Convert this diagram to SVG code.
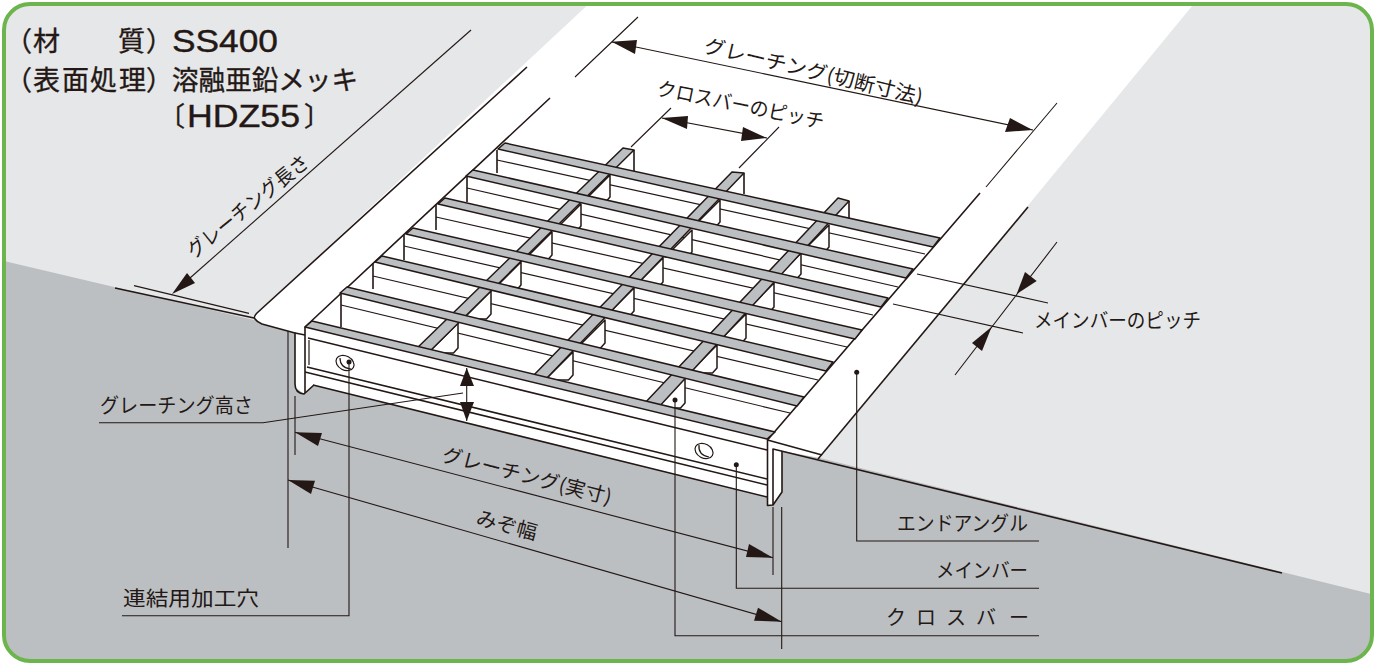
<svg xmlns="http://www.w3.org/2000/svg" width="1375" height="664" viewBox="0 0 1375 664">
<style>
.ink{fill:none;stroke:#231815;stroke-width:1.6;stroke-linecap:butt;stroke-linejoin:round}
.thin{fill:none;stroke:#231815;stroke-width:1.2}
.hair{fill:none;stroke:#231815;stroke-width:1.1}
.bar{fill:#bcbfc2;stroke:#231815;stroke-width:1.5;stroke-linejoin:round}
.web{fill:#fff;stroke:#231815;stroke-width:1.5;stroke-linejoin:round}
.ah{fill:#231815;stroke:none}
.dot{fill:#231815}
.t{font-family:"Noto Sans CJK JP","Noto Sans",sans-serif;fill:#231815;font-size:20px}
.h{font-size:27px;stroke:#231815;stroke-width:.35px}
.l{font-family:"Liberation Sans",Arial,sans-serif;fill:#231815;font-size:32px;stroke:#231815;stroke-width:.4px}
</style>
<defs><clipPath id="frame"><rect x="4" y="4" width="1368" height="657" rx="26"/></clipPath></defs>

<g id="background" clip-path="url(#frame)">
<rect width="1375" height="664" fill="#e6e7e8"/>
<polygon points="0,260 254,320 300,330 820,458 1375,595 1375,664 0,664" fill="#bcbfc2"/>
<polygon points="593,0 1197,0 820,458 782,451 782,492 773,505 768,506 768,497 313,385 304,394 295,387 295,333 260,323 254,316" fill="#fff"/>
</g>

<g id="end-angles">
<path class="ink" d="M527,67L257,313Q253,317 255,319Q257,322 262,324L295,333V384Q295,393 304,394L314,385"/>
<path class="ink" d="M550,98L305,327V393"/>
<path class="thin" d="M309,340V365"/>
<path class="ink" d="M295,333L305,335"/>
<path class="ink" d="M115,288L254,318"/>
<path class="thin" d="M134,285.700L249,313.300"/>
<path class="ink" d="M980,193L767.500,440V505.500L773,505L782,492V451"/>
<path class="ink" d="M1028,207L818,459"/>
<path class="ink" d="M767.500,440L822,455"/>
<path class="ink" d="M773,505V449L1282,573"/>
</g>

<g id="front-flange">
<path class="ink" d="M308,338L767,450M307,367L767,479M305,372L767,485M313,385L767,497"/>
<ellipse cx="345" cy="363" rx="9.500" ry="7" transform="rotate(28 345 363)" class="thin"/>
<path class="thin" d="M340,358Q340,368 351,369"/>
<ellipse cx="704" cy="451" rx="9.500" ry="7" transform="rotate(28 704 451)" class="thin"/>
<path class="thin" d="M699,445Q698,455 709,457"/>
</g>

<g id="main-bar-sides">
<path class="thin" d="M341,305L790,413M373,276L818,380M404,246L847,347M436,217L873,315M467,188L898,287M497,160L925,254"/>
<path class="ink" d="M341,294V327M373,263V289M404,235V260M436,205V230M467,177V202M497,150V173"/>
</g>

<g id="cross-bars">
<path class="web" d="M458,323V348l-4.500,5H428ZM491,291V314l-4.500,5H463ZM521,262V285l-4.500,5H493ZM552,232V255l-4.500,5H524ZM581,204V226l-4.500,5H554ZM610,175V197l-4.500,5H583Z"/>
<path class="web" d="M573,352V375l-4.500,5H545ZM605,320V343l-4.500,5H577ZM634,288V311l-4.500,5H606ZM663,258V282l-4.500,5H634ZM692,230V252l-4.500,5H665ZM720,200V222l-4.500,5H693Z"/>
<path class="web" d="M685,378V403l-4.500,5H655ZM717,345V368l-4.500,5H689ZM746,314V338l-4.500,5H717ZM774,283V307l-4.500,5H745ZM801,253V274l-4.500,5H775ZM829,225V247l-4.500,5H802Z"/>
<path class="ink" d="M634,150V172M744,173V194M849,201V219"/>
<polygon class="bar" points="414,351 623,148 634,150 428,353"/>
<polygon class="bar" points="531,378 732,172 744,173 544,381"/>
<polygon class="bar" points="643,405 838,198 849,201 657,409"/>
</g>

<g id="main-bars">
<polygon class="bar" points="505,143 940,238 933,247 498,149"/>
<polygon class="bar" points="473,170 913,269 906,278 466,176"/>
<polygon class="bar" points="445,198 888,298 881,307 438,204"/>
<polygon class="bar" points="413,228 862,330 855,339 406,234"/>
<polygon class="bar" points="382,256 833,362 826,371 375,262"/>
<polygon class="bar" points="347,287 804,397 797,406 340,293"/>
<polygon class="bar" points="312,321 775,432 767,439 305,327"/>
</g>

<g id="connectors">
<path class="hair" d="M471,30L190,278"/>
<polygon class="ah" points="172,294 187,273 195,283"/>
<path class="hair" d="M638,17L575,77M1057,103L986,187M612,42L1033,130"/>
<polygon class="ah" points="611.700,41.700 637,40 635,54"/>
<polygon class="ah" points="1032.700,130 1010,118 1005,132"/>
<path class="hair" d="M671,108L631,147M779,127L739,168M662,118L767,138"/>
<polygon class="ah" points="661.700,118 688,116 687,129"/>
<polygon class="ah" points="766.700,138 743,127 741,141"/>
<path class="hair" d="M1057,242L955,375M917,274L1048,303M893,304L1023,333"/>
<polygon class="ah" points="1016.700,294 1025,272 1036.700,281"/>
<polygon class="ah" points="991.700,326.700 972,343 982,351"/>
<path class="hair" d="M466.700,368V421"/>
<polygon class="ah" points="466.700,368 460,386 474,386"/>
<polygon class="ah" points="466.700,421 460,402 474,402"/>
<path class="hair" d="M99,422.700H263L463,393"/>
<path class="hair" d="M295,396V455M773,507V575M288,331V548M781.700,507V649"/>
<path class="hair" d="M295,432.300L773,557.700M288,480L781.700,621.700"/>
<polygon class="ah" points="295,432.300 322,433 318,446"/>
<polygon class="ah" points="773,557.700 749,544 746,557"/>
<polygon class="ah" points="288,480 315,480.700 311,494"/>
<polygon class="ah" points="781.700,621.700 758,607.700 754,620.700"/>
<circle class="dot" cx="349" cy="362" r="2.500"/>
<path class="hair" d="M349,362V615.700H122"/>
<circle class="dot" cx="856.700" cy="372.300" r="2.500"/>
<path class="hair" d="M856.700,372V541H1039"/>
<circle class="dot" cx="736.300" cy="464.700" r="2.500"/>
<path class="hair" d="M736.300,465V588.300H1039"/>
<circle class="dot" cx="675" cy="400" r="2.500"/>
<path class="hair" d="M675,400V635.700H1039"/>
</g>

<g id="spec-text">
<text class="t h" y="51" x="5">（</text><text class="t h" y="51" x="33">材</text><text class="t h" y="51" x="118">質</text><text class="t h" y="51" x="146">）</text>
<text class="l" x="172" y="52" textLength="106" lengthAdjust="spacingAndGlyphs">SS400</text>
<text class="t h" y="90" x="5 33 62 90 119 146">（表面処理）</text>
<text class="t h" y="90" x="172" textLength="186" lengthAdjust="spacingAndGlyphs">溶融亜鉛メッキ</text>
<text class="t h" y="126" x="158">〔</text>
<text class="l" x="187" y="127" textLength="113" lengthAdjust="spacingAndGlyphs">HDZ55</text>
<text class="t h" y="126" x="304">〕</text>
</g>

<g id="labels">
<text class="t" transform="translate(194,259) rotate(-39)" textLength="150" lengthAdjust="spacingAndGlyphs">グレーチング長さ</text>
<text class="t" transform="translate(703,52) rotate(13.500)" textLength="224" lengthAdjust="spacingAndGlyphs">グレーチング(切断寸法)</text>
<text class="t" transform="translate(656,95) rotate(11.500)" textLength="170" lengthAdjust="spacingAndGlyphs">クロスバーのピッチ</text>
<text class="t" x="1034" y="328" textLength="167" lengthAdjust="spacingAndGlyphs">メインバーのピッチ</text>
<text class="t" x="100" y="413" textLength="153" lengthAdjust="spacingAndGlyphs">グレーチング高さ</text>
<text class="t" transform="translate(441,461) rotate(14.500)" textLength="174" lengthAdjust="spacingAndGlyphs">グレーチング(実寸)</text>
<text class="t" transform="translate(475,524) rotate(15)" textLength="62" lengthAdjust="spacingAndGlyphs">みぞ幅</text>
<text class="t" x="123" y="606" textLength="136" lengthAdjust="spacingAndGlyphs">連結用加工穴</text>
<text class="t" x="897" y="531" textLength="131" lengthAdjust="spacingAndGlyphs">エンドアングル</text>
<text class="t" x="936" y="578" textLength="92" lengthAdjust="spacingAndGlyphs">メインバー</text>
<text class="t" x="886 916 946 976 1009" y="625">クロスバー</text>
</g>

<rect id="frame-border" x="4" y="4" width="1368" height="657" rx="26" fill="none" stroke="#6cb54c" stroke-width="4"/>
</svg>
